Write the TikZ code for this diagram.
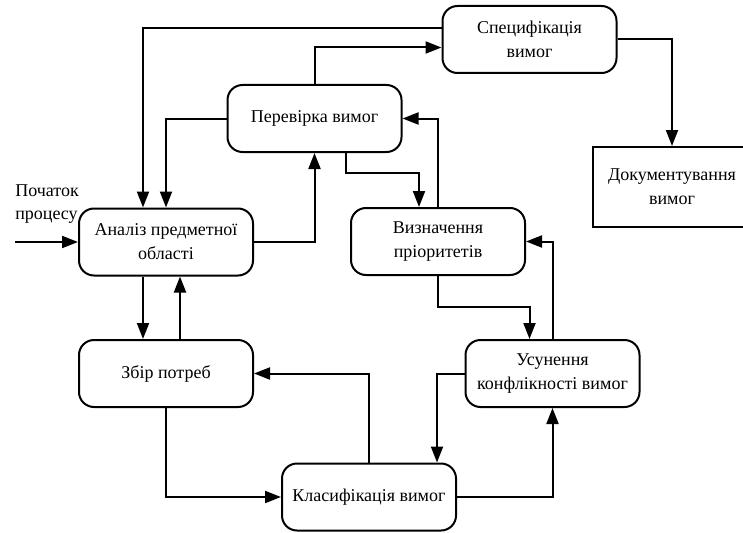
\documentclass[tikz,border=0pt]{standalone}
\usepackage{fontspec}
\setmainfont{Liberation Serif}
\usetikzlibrary{arrows.meta}

\begin{document}
\begin{tikzpicture}[x=1pt,y=-1pt,
  box/.style={draw,line width=2pt,rounded corners=15pt,align=center,
    minimum width=174pt,minimum height=67pt,inner sep=2pt,
    font=\fontsize{18}{24}\selectfont},
  docbox/.style={box,rounded corners=0pt,minimum width=158pt,minimum height=80pt},
  arr/.style={line width=2pt,-{Triangle[length=16pt,width=12pt]}},
  lbl/.style={align=left,inner sep=0pt,font=\fontsize{18}{23}\selectfont}]
  \useasboundingbox (0,0) rectangle (743,532);
  % blocks
  \node[box] (analiz) at (166,242) {Аналіз предметної\\області};
  \node[box] (perev) at (314.5,118.5) {Перевірка вимог};
  \node[box] (spec) at (529.5,39.5) {Специфікація\\вимог};
  \node[docbox] (dok) at (672,187) {Документування\\вимог};
  \node[box] (vyzn) at (438,241.5) {Визначення\\пріоритетів};
  \node[box] (zbir) at (166,373.5) {Збір потреб};
  \node[box] (usun) at (552.5,373.5) {Усунення\\конфлікності вимог};
  \node[box] (klas) at (369,497) {Класифікація вимог};
  \node[lbl] (pochatok) at (47,204) {Початок\\процесу};
  \coordinate (start) at (15,242);
  % arrows
  \draw[arr] (start) -- (analiz.west);
  \draw[arr] ([yshift=11pt]spec.west) -| ([xshift=-23pt]analiz.north);
  \draw[arr] (perev.north) |- ([yshift=-8pt]spec.west);
  \draw[arr] (perev.west) -| (analiz.north);
  \draw[arr] (analiz.east) -| (perev.south);
  \draw[arr] ([xshift=31pt]perev.south) -- ++(0,20) -| ([xshift=-19pt]vyzn.north);
  \draw[arr] (vyzn.north) |- (perev.east);
  \draw[arr] (spec.east) -| (dok.north);
  \draw[arr] (vyzn.south) -- ++(0,31) -| ([xshift=-23pt]usun.north);
  \draw[arr] (usun.north) |- (vyzn.east);
  \draw[arr] (usun.west) -| ([xshift=68pt]klas.north);
  \draw[arr] (klas.east) -| (usun.south);
  \draw[arr] (klas.north) |- (zbir.east);
  \draw[arr] (zbir.south) |- (klas.west);
  \draw[arr] ([xshift=-23pt]analiz.south) -- ([xshift=-23pt]zbir.north);
  \draw[arr] ([xshift=14pt]zbir.north) -- ([xshift=14pt]analiz.south);
\end{tikzpicture}
\end{document}
